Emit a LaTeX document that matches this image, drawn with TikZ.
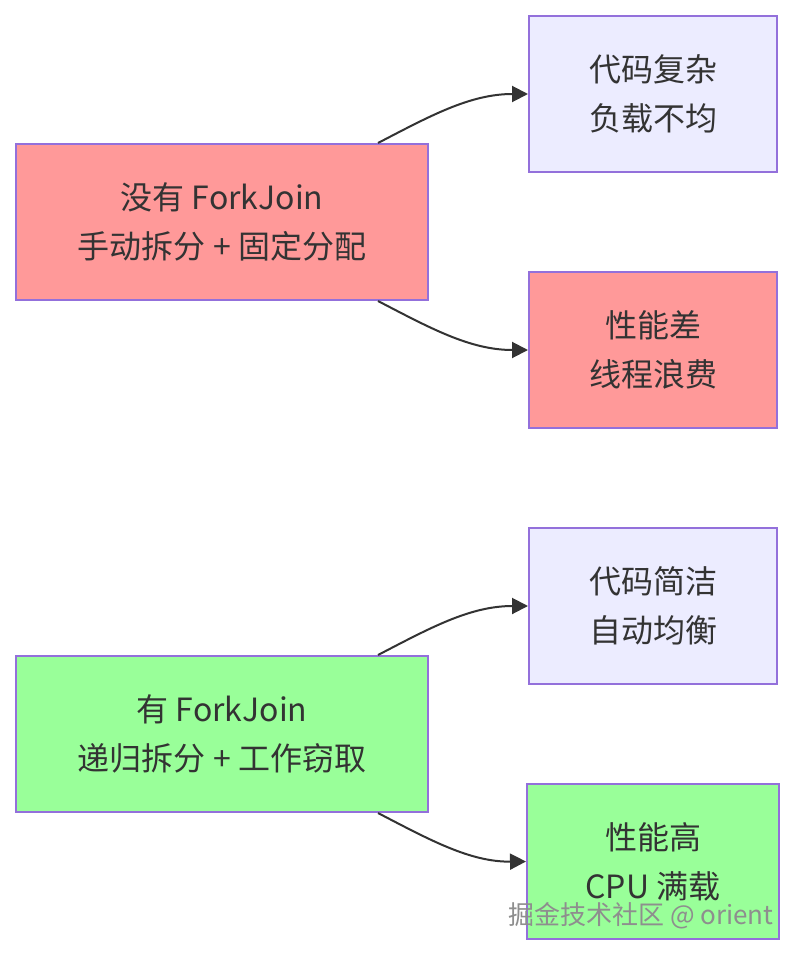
\documentclass[tikz,border=0pt]{standalone}
\usepackage{fontspec}
\setmainfont{Noto Sans CJK SC}
\usetikzlibrary{arrows.meta,calc}
\definecolor{pinkf}{HTML}{FF9999}
\definecolor{lavf}{HTML}{ECECFF}
\definecolor{greenf}{HTML}{99FF99}
\definecolor{bord}{HTML}{9370DB}
\definecolor{txt}{HTML}{333333}
\definecolor{wmc}{HTML}{8E8E8E}
\tikzset{
  box/.style={draw=bord, line width=1.5pt, text=txt, align=center, inner sep=0pt,
    font=\fontsize{24}{36.5}\selectfont, minimum height=117pt},
  bigbox/.style={box, minimum width=309pt},
  smallbox/.style={box, minimum width=186pt},
  conn/.style={draw=txt, line width=1.5pt, -{Triangle[length=12pt,width=12pt]}},
}
\begin{document}
\begin{tikzpicture}[x=0.75pt,y=-0.75pt]
\useasboundingbox[fill=white] (0,0) rectangle (795,956);
\node[bigbox, fill=pinkf] (A) at (222,222) {没有 ForkJoin\\手动拆分 + 固定分配};
\node[smallbox, fill=lavf] (B1) at (653,94) {代码复杂\\负载不均};
\node[smallbox, fill=pinkf] (B2) at (653,350) {性能差\\线程浪费};
\node[bigbox, fill=greenf] (C) at (222,734) {有 ForkJoin\\递归拆分 + 工作窃取};
\node[smallbox, fill=lavf] (D1) at (653,606) {代码简洁\\自动均衡};
\node[smallbox, fill=greenf, minimum width=189pt, minimum height=116pt] (D2) at (653,861.5) {性能高\\CPU 满载};
\coordinate (a1) at ($(A.north)+(156,0)$);
\coordinate (a2) at ($(A.south)+(156,0)$);
\coordinate (c1) at ($(C.north)+(156,0)$);
\coordinate (c2) at ($(C.south)+(156,0)$);
\draw[conn] (a1) .. controls (430,116) and (470,94) .. (B1.west);
\draw[conn] (a2) .. controls (430,328) and (470,350) .. (B2.west);
\draw[conn] (c1) .. controls (430,628) and (470,606) .. (D1.west);
\draw[conn] (c2) .. controls (430,840) and (470,862) .. (D2.west);
\node[text=wmc, font=\fontsize{19.5}{22}\selectfont, anchor=center] (wm) at (641,916) {掘金技术社区 @ orient};
\end{tikzpicture}
\end{document}
